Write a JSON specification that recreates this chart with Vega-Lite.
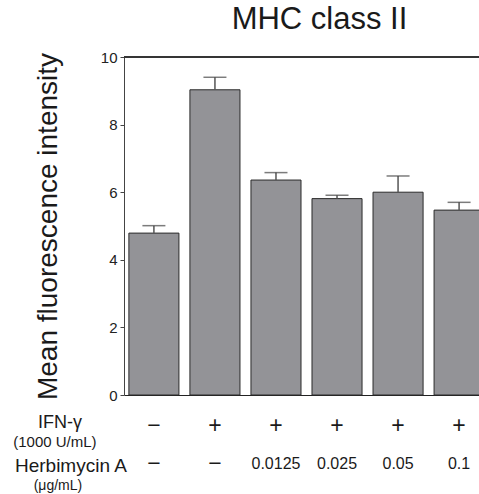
{
  "$schema": "https://vega.github.io/schema/vega-lite/v6.json",
  "width": 355,
  "height": 338,
  "autosize": {"type": "none"},
  "padding": {"left": 124, "top": 57, "right": 0, "bottom": 99},
  "background": "white",
  "config": {"view": {"stroke": null}, "font": "Liberation Sans"},
  "title": {"text": "MHC class II", "fontSize": 31, "font": "Liberation Sans", "fontWeight": "normal", "color": "#1a1a1a", "anchor": "middle", "frame": "group", "dx": 18, "offset": 14},
  "data": {"values": [
    {"group": "1", "ifn": "−", "herb": "−", "mean": 4.79, "upper": 5.01},
    {"group": "2", "ifn": "+", "herb": "−", "mean": 9.03, "upper": 9.4},
    {"group": "3", "ifn": "+", "herb": "0.0125", "mean": 6.36, "upper": 6.58},
    {"group": "4", "ifn": "+", "herb": "0.025", "mean": 5.81, "upper": 5.91},
    {"group": "5", "ifn": "+", "herb": "0.05", "mean": 6.0, "upper": 6.48},
    {"group": "6", "ifn": "+", "herb": "0.1", "mean": 5.47, "upper": 5.7}
  ]},
  "layer": [
    {
      "mark": {"type": "bar", "fill": "#939397", "stroke": "#2b2b2b", "strokeWidth": 1},
      "encoding": {
        "x": {"field": "group", "type": "nominal", "sort": null,
          "scale": {"domain": ["1", "2", "3", "4", "5", "6"], "range": [0, 365], "paddingInner": 0.18, "paddingOuter": 0.08},
          "axis": {"labels": false, "ticks": false, "title": null, "domainColor": "#222", "domainWidth": 1.2}},
        "y": {"field": "mean", "type": "quantitative",
          "scale": {"domain": [0, 10], "nice": false, "zero": true},
          "axis": {"values": [0, 1, 2, 3, 4, 5, 6, 7, 8, 9, 10],
            "labelExpr": "datum.value % 2 === 0 ? datum.label : ''",
            "tickSize": 4, "labelPadding": 3, "labelFontSize": 15, "labelColor": "#222",
            "tickColor": "#444", "domainColor": "#444", "grid": false,
            "title": "Mean fluorescence intensity", "titleFontSize": 28, "titleFontWeight": "normal",
            "titleColor": "#1a1a1a", "titlePadding": 38}}
      }
    },
    {
      "mark": {"type": "rule", "color": "#555", "strokeWidth": 1.5},
      "encoding": {
        "x": {"field": "group", "type": "nominal", "sort": null},
        "y": {"field": "mean", "type": "quantitative"},
        "y2": {"field": "upper"}
      }
    },
    {
      "mark": {"type": "tick", "color": "#444", "thickness": 1.5, "size": 23},
      "encoding": {
        "x": {"field": "group", "type": "nominal", "sort": null},
        "y": {"field": "upper", "type": "quantitative"}
      }
    },
    {
      "mark": {"type": "rule", "color": "#333", "strokeWidth": 1},
      "encoding": {"y": {"datum": 10}}
    },
    {
      "mark": {"type": "text", "baseline": "middle", "fontSize": 23, "color": "#1a1a1a"},
      "encoding": {
        "x": {"field": "group", "type": "nominal", "sort": null},
        "y": {"datum": -0.93},
        "text": {"field": "ifn"}
      }
    },
    {
      "mark": {"type": "text", "baseline": "middle", "color": "#1a1a1a"},
      "encoding": {
        "x": {"field": "group", "type": "nominal", "sort": null},
        "y": {"datum": -2.04},
        "text": {"field": "herb"},
        "size": {"condition": {"test": "datum.herb === '−'", "value": 23}, "value": 16}
      }
    },
    {
      "transform": [{"filter": "datum.group === '1'"}],
      "mark": {"type": "text", "baseline": "alphabetic", "align": "center", "fontSize": 18, "color": "#1a1a1a", "dx": -94, "text": "IFN-γ"},
      "encoding": {"x": {"field": "group", "type": "nominal", "sort": null}, "y": {"datum": -0.98}}
    },
    {
      "transform": [{"filter": "datum.group === '1'"}],
      "mark": {"type": "text", "baseline": "alphabetic", "align": "center", "fontSize": 15, "color": "#1a1a1a", "dx": -99, "text": "(1000 U/mL)"},
      "encoding": {"x": {"field": "group", "type": "nominal", "sort": null}, "y": {"datum": -1.54}}
    },
    {
      "transform": [{"filter": "datum.group === '1'"}],
      "mark": {"type": "text", "baseline": "alphabetic", "align": "center", "fontSize": 19, "color": "#1a1a1a", "dx": -83, "text": "Herbimycin A"},
      "encoding": {"x": {"field": "group", "type": "nominal", "sort": null}, "y": {"datum": -2.27}}
    },
    {
      "transform": [{"filter": "datum.group === '1'"}],
      "mark": {"type": "text", "baseline": "alphabetic", "align": "center", "fontSize": 14, "color": "#1a1a1a", "dx": -96, "text": "(μg/mL)"},
      "encoding": {"x": {"field": "group", "type": "nominal", "sort": null}, "y": {"datum": -2.8}}
    }
  ]
}
